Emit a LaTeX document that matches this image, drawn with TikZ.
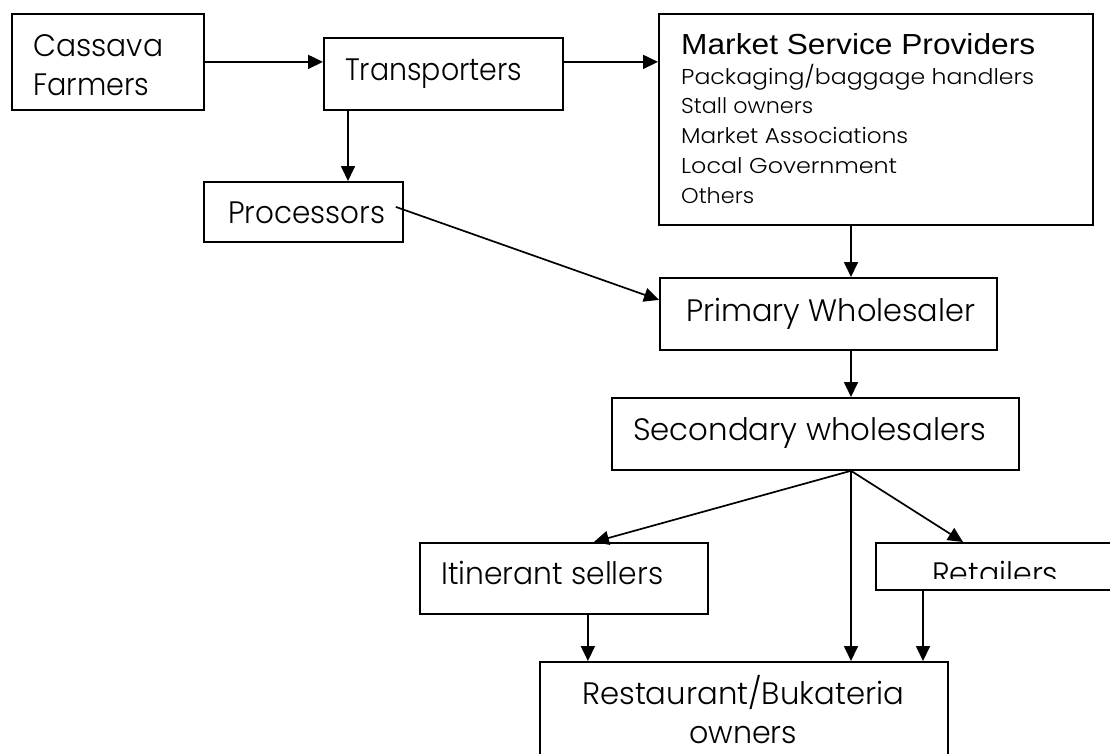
\documentclass[tikz,border=0pt]{standalone}
\usepackage{fontspec}
\setmainfont{Poppins Light}
\newfontfamily\arialf{Liberation Sans}
\usetikzlibrary{arrows.meta,calc}
\newcommand\fitt[2]{\resizebox{#1pt}{\height}{#2}}
\begin{document}
\begin{tikzpicture}[x=1pt,y=-1pt,
  box/.style={draw, line width=1.8pt, inner sep=0pt, anchor=north west},
  txt/.style={inner sep=0pt, anchor=base west},
  big/.style={font=\fontsize{31}{31}\selectfont},
  small/.style={font=\fontsize{21.5}{21.5}\selectfont},
  arr/.style={line width=1.7pt, -{Triangle[length=15pt,width=14pt]}}]
\clip (0,0) rectangle (1110,753);
\fill[white] (0,0) rectangle (1110,753);
\coordinate (spine) at (851,0);
% boxes
\node[box, minimum width=192pt, minimum height=96pt] (cf) at (11,13) {};
\node[box, minimum width=239pt, minimum height=72pt] (tr) at (323,37) {};
\node[box, minimum width=199pt, minimum height=60pt] (pr) at (203,181) {};
\node[box, minimum width=434pt, minimum height=211pt] (ms) at (658,13) {};
\node[box, minimum width=337pt, minimum height=72pt] (pw) at (659,277) {};
\node[box, minimum width=407pt, minimum height=72pt] (sw) at (611,397) {};
\node[box, minimum width=288pt, minimum height=71pt] (it) at (419,542) {};
\node[box, minimum width=255pt, minimum height=47pt] (re) at (875,542) {};
\node[box, minimum width=408pt, minimum height=139pt] (rb) at (539,661) {};
% texts
\node[txt, big] (cft1) at (33,56) {\fitt{130}{Cassava}};
\node[txt, big] (cft2) at (33,95) {\fitt{116}{Farmers}};
\node[txt, big] (trt) at (345,80) {\fitt{177}{Transporters}};
\node[txt, big] (prt) at (228,223) {\fitt{157}{Processors}};
\node[txt, font=\arialf\fontsize{29}{29}\selectfont] (mst) at (681,54) {\fitt{354}{Market Service Providers}};
\node[txt, small] (ms1) at (681,84) {\fitt{353}{Packaging/baggage handlers}};
\node[txt, small] (ms2) at (681,113) {\fitt{132}{Stall owners}};
\node[txt, small] (ms3) at (681,143) {\fitt{227}{Market Associations}};
\node[txt, small] (ms4) at (681,173) {\fitt{216}{Local Government}};
\node[txt, small] (ms5) at (681,203) {\fitt{73}{Others}};
\node[txt, big] (pwt) at (686,321) {\fitt{289}{Primary Wholesaler}};
\node[txt, big] (swt) at (633,440) {\fitt{353}{Secondary wholesalers}};
\node[txt, big] (itt) at (441,584) {\fitt{222}{Itinerant sellers}};
\begin{scope}
  \clip (875,542) rectangle (1110,578);
  \node[txt, big] (ret) at (932,584) {\fitt{126}{Retailers}};
\end{scope}
\node[txt, big] (rbt1) at (582,704) {\fitt{322}{Restaurant/Bukateria}};
\node[txt, big] (rbt2) at (689,743) {\fitt{108}{owners}};
% connectors
\draw[arr] (cf.east) -- (cf.east -| tr.west);
\draw[arr] ([xshift=25pt]tr.south west) -- ([xshift=25pt]tr.south west |- pr.north);
\draw[arr] ([yshift=12pt]tr.east) -- ([yshift=12pt]tr.east -| ms.west);
\draw[arr] ([xshift=-8pt,yshift=5pt]pr.east) -- ([yshift=14pt]pw.west);
\draw[arr] (spine |- ms.south) -- (spine |- pw.north);
\draw[arr] (spine |- pw.south) -- (spine |- sw.north);
\draw[arr] (spine |- sw.south) -- ([xshift=30pt]it.north);
\draw[arr] (spine |- sw.south) -- ([xshift=88pt]re.north west);
\draw[arr] (spine |- sw.south) -- (spine |- rb.north);
\draw[arr] ([xshift=24pt]it.south) -- ([xshift=24pt]it.south |- rb.north);
\draw[arr] ([xshift=48pt]re.south west) -- ([xshift=48pt]re.south west |- rb.north);
\end{tikzpicture}
\end{document}
